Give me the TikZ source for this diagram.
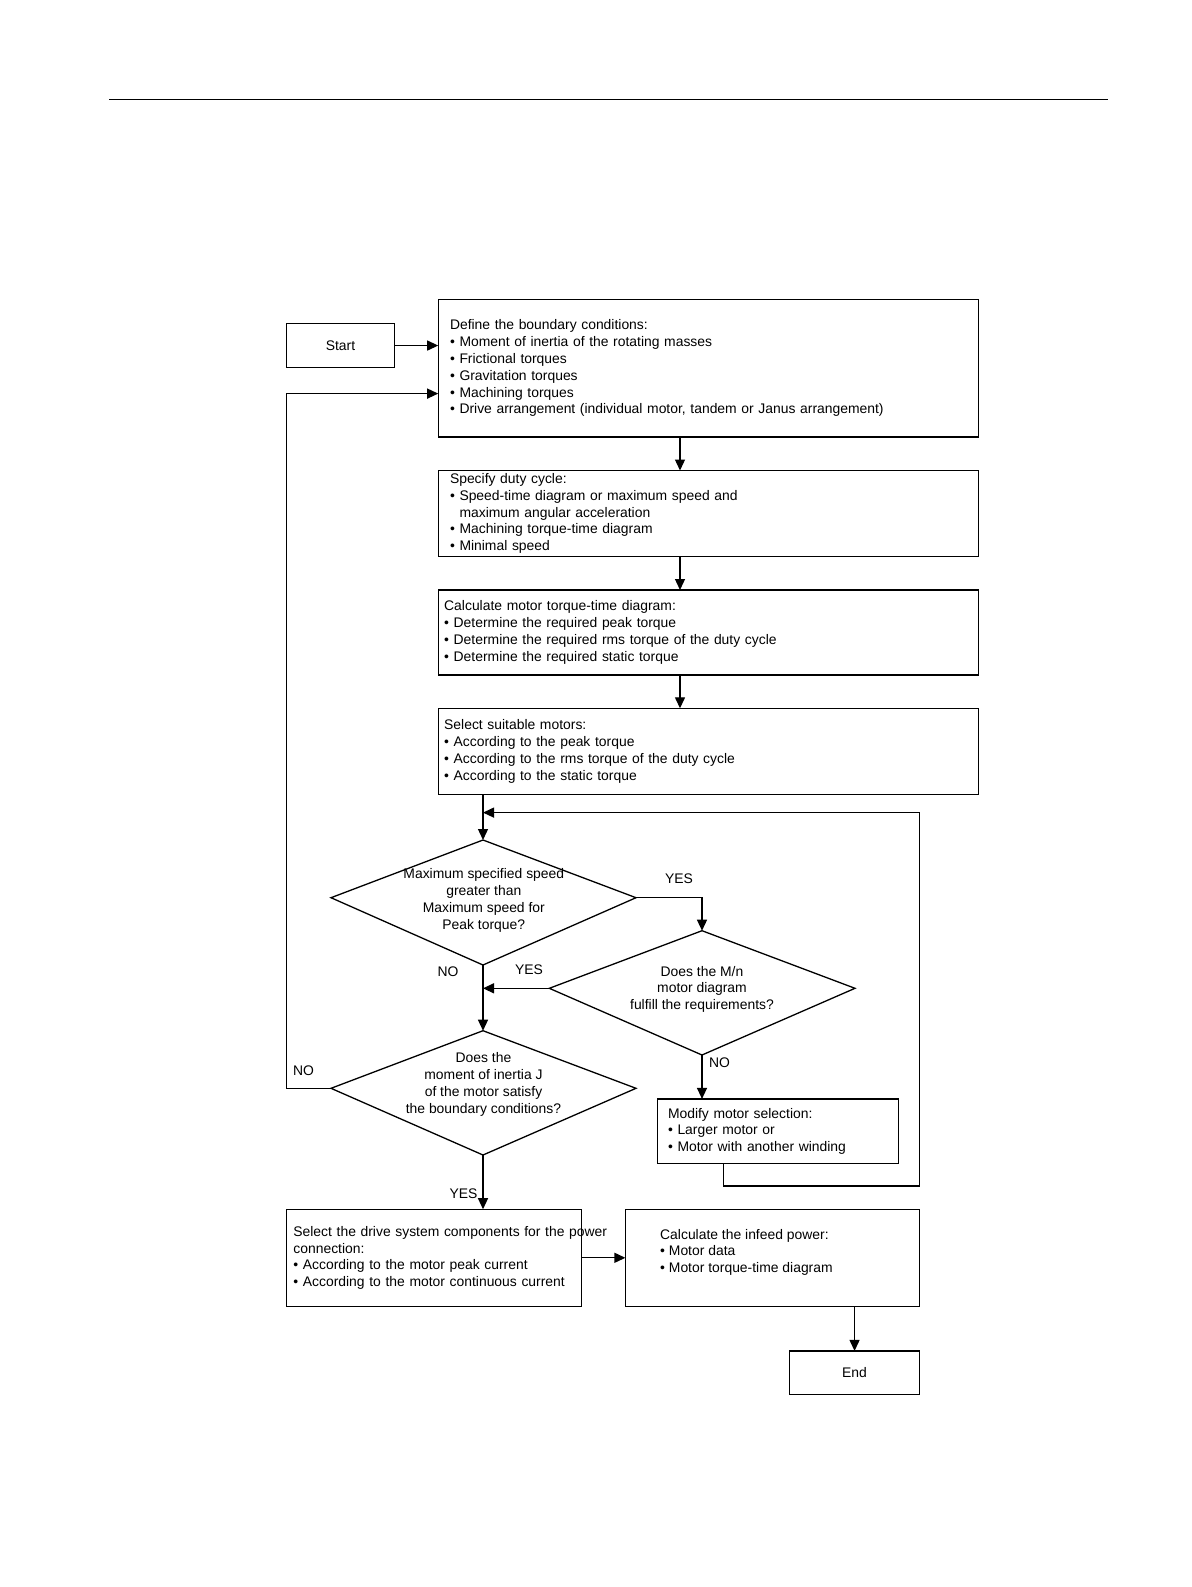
\documentclass[tikz,border=0pt]{standalone}
\usepackage{fontspec}
\setmainfont{Liberation Sans}
\usetikzlibrary{arrows.meta,shapes.geometric,calc}
\begin{document}
\begin{tikzpicture}[x=1pt,y=-1pt,
  every node/.style={font=\fontsize{13.9}{16.8}\selectfont},
  ln/.style={line width=1.3pt},
  arr/.style={ln,-{Triangle[length=11pt,width=10pt]}},
  box/.style={draw,ln,rectangle,align=left,inner ysep=0pt,outer sep=0pt},
  dtext/.style={align=center,inner sep=0pt},
  lbl/.style={inner sep=0pt}
]
\useasboundingbox (0,0) rectangle (1191,1587);
\fill[white] (0,0) rectangle (1191,1587);
\draw[line width=1.3pt] (109.3,99.2) -- (1108,99.2);

\coordinate (spine) at (680,0);
\coordinate (in1) at (438.2,393.6);
\coordinate (r1) at (723.5,1186);
\coordinate (r2) at (919.8,812.6);

% decision corners
\coordinate (d1n) at (483,840);   \coordinate (d1s) at (483,965);
\coordinate (d1w) at (331,897.7); \coordinate (d1e) at (636,897.7);
\coordinate (d2n) at (702,930.7); \coordinate (d2s) at (702,1055);
\coordinate (d2w) at (549.3,988.3); \coordinate (d2e) at (855,988.3);
\coordinate (d3n) at (483,1030.7); \coordinate (d3s) at (483,1155);
\coordinate (d3w) at (331,1088.3); \coordinate (d3e) at (636,1088.3);

\node[box, minimum width=108.2pt, minimum height=43.5pt, inner xsep=0pt, align=center] (start) at (340.5,345.55) {Start};

\node[box, text width=516.7pt, inner xsep=11.8pt, minimum height=137.6pt] (b1) at (708.35,368.3)
{Define the boundary conditions:\\
• Moment of inertia of the rotating masses\\
• Frictional torques\\
• Gravitation torques\\
• Machining torques\\
• Drive arrangement (individual motor, tandem or Janus arrangement)};

\node[box, text width=516.7pt, inner xsep=11.8pt, minimum height=86pt] (b2) at (708.35,513.5)
{Specify duty cycle:\\
• Speed-time diagram or maximum speed and\\
\phantom{•\ }maximum angular acceleration\\
• Machining torque-time diagram\\
• Minimal speed};

\node[box, text width=528.3pt, inner xsep=6pt, minimum height=85pt] (b3) at (708.35,632.5)
{Calculate motor torque-time diagram:\\
• Determine the required peak torque\\
• Determine the required rms torque of the duty cycle\\
• Determine the required static torque};

\node[box, text width=528.3pt, inner xsep=6pt, minimum height=86pt] (b4) at (708.35,751.3)
{Select suitable motors:\\
• According to the peak torque\\
• According to the rms torque of the duty cycle\\
• According to the static torque};

\draw[ln] (d1n) -- (d1e) -- (d1s) -- (d1w) -- cycle;
\node[dtext] (d1t) at (483.8,900.2) {Maximum specified speed\\greater than\\Maximum speed for\\Peak torque?};

\draw[ln] (d2n) -- (d2e) -- (d2s) -- (d2w) -- cycle;
\node[dtext] (d2t) at (702,989.3) {Does the M/n\\motor diagram\\fulfill the requirements?};

\draw[ln] (d3n) -- (d3e) -- (d3s) -- (d3w) -- cycle;
\node[dtext] (d3t) at (483.5,1084.3) {Does the\\moment of inertia J\\of the motor satisfy\\the boundary conditions?};

\node[box, text width=220.3pt, inner xsep=10.3pt, minimum height=64.8pt] (mod) at (778.15,1131.3)
{Modify motor selection:\\
• Larger motor or\\
• Motor with another winding};

\node[box, text width=281.4pt, inner xsep=7pt, minimum height=97.2pt] (b5) at (434.1,1257.8)
{\mbox{Select the drive system components for the power}\\
connection:\\
• According to the motor peak current\\
• According to the motor continuous current};

\node[box, minimum width=294.4pt, minimum height=97.2pt, inner sep=0pt] (b6) at (772.6,1257.8) {};
\node[align=left, anchor=west, inner sep=0pt] (b6t) at (660,1252.3)
{Calculate the infeed power:\\
• Motor data\\
• Motor torque-time diagram};

\node[box, minimum width=130.5pt, minimum height=43.5pt, inner xsep=0pt, align=center] (stop) at (854.55,1372.65) {End};

\node[lbl] (yes1) at (679,879) {YES};
\node[lbl] (no1) at (448,972) {NO};
\node[lbl] (yes2) at (529,970) {YES};
\node[lbl] (no2) at (719.5,1062.5) {NO};
\node[lbl] (no3) at (303.6,1070.6) {NO};
\node[lbl] (yes3) at (463.5,1194) {YES};

\draw[arr] (start.east) -- (start.east -| b1.west);
\draw[arr] (b1.south -| spine) -- (b2.north -| spine);
\draw[arr] (b2.south -| spine) -- (b3.north -| spine);
\draw[arr] (b3.south -| spine) -- (b4.north -| spine);
\draw[arr] (b4.south -| d1n) -- (d1n);
\draw[arr] (d1e) -| (d2n);
\draw[arr] (d2w) -- (d2w -| d1s);
\draw[arr] (d1s) -- (d3n);
\draw[arr] (d3w) -| (in1 -| start.west) -- (in1);
\draw[arr] (d2s) -- (d2s |- mod.north);
\draw[arr] (mod.south -| r1) -- (r1) -| (r2) -- (r2 -| d1n);
\draw[arr] (d3s) -- (b5.north -| d3s);
\draw[arr] (b5.east) -- (b5.east -| b6.west);
\draw[arr] (b6.south -| stop.north) -- (stop.north);
\end{tikzpicture}
\end{document}
